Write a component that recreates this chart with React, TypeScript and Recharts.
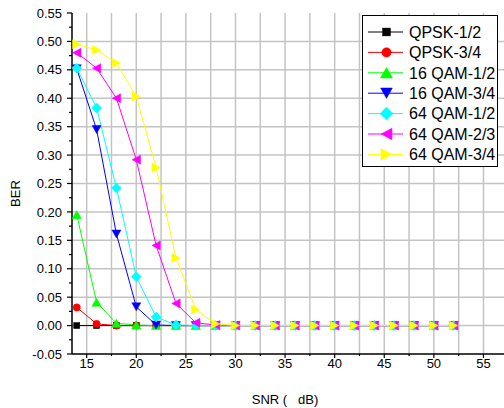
import React from 'react';
import { LineChart, Line, XAxis, YAxis, CartesianGrid, Legend, Label } from 'recharts';

const snr = [14, 16, 18, 20, 22, 24, 26, 28, 30, 32, 34, 36, 38, 40, 42, 44, 46, 48, 50, 52];
const qpsk12 = [0, 0, 0, 0, 0, 0, 0, 0, 0, 0, 0, 0, 0, 0, 0, 0, 0, 0, 0, 0];
const qpsk34 = [0.032, 0.003, 0, 0, 0, 0, 0, 0, 0, 0, 0, 0, 0, 0, 0, 0, 0, 0, 0, 0];
const qam16_12 = [0.195, 0.041, 0.004, 0.001, 0, 0, 0, 0, 0, 0, 0, 0, 0, 0, 0, 0, 0, 0, 0, 0];
const qam16_34 = [0.452, 0.345, 0.161, 0.033, 0.001, 0, 0, 0, 0, 0, 0, 0, 0, 0, 0, 0, 0, 0, 0, 0];
const qam64_12 = [0.453, 0.383, 0.242, 0.086, 0.015, 0.001, 0, 0, 0, 0, 0, 0, 0, 0, 0, 0, 0, 0, 0, 0];
const qam64_23 = [0.48, 0.453, 0.4, 0.292, 0.141, 0.039, 0.005, 0.001, 0, 0, 0, 0, 0, 0, 0, 0, 0, 0, 0, 0];
const qam64_34 = [0.495, 0.485, 0.462, 0.403, 0.278, 0.119, 0.028, 0.003, 0, 0, 0, 0, 0, 0, 0, 0, 0, 0, 0, 0];

const xTicks = [15, 17.5, 20, 22.5, 25, 27.5, 30, 32.5, 35, 37.5, 40, 42.5, 45, 47.5, 50, 52.5, 55];
const yTicks = [-0.05, -0.025, 0, 0.025, 0.05, 0.075, 0.1, 0.125, 0.15, 0.175, 0.2, 0.225, 0.25, 0.275, 0.3, 0.325, 0.35, 0.375, 0.4, 0.425, 0.45, 0.475, 0.5, 0.525, 0.55];
const yGrid = [0, 0.05, 0.1, 0.15, 0.2, 0.25, 0.3, 0.35, 0.4, 0.45, 0.5];
const xGrid = [15, 17.5, 20, 22.5, 25, 27.5, 30, 32.5, 35, 37.5, 40, 42.5, 45, 47.5, 50, 52.5, 55];

const FONT = '"Liberation Sans", Arial, sans-serif';

type Shape = 'square' | 'circle' | 'up' | 'down' | 'diamond' | 'left' | 'right';

const series: { key: string; name: string; color: string; shape: Shape; values: number[] }[] = [
  { key: 'qpsk12', name: 'QPSK-1/2', color: '#000000', shape: 'square', values: qpsk12 },
  { key: 'qpsk34', name: 'QPSK-3/4', color: '#ff0000', shape: 'circle', values: qpsk34 },
  { key: 'qam16_12', name: '16 QAM-1/2', color: '#00ff00', shape: 'up', values: qam16_12 },
  { key: 'qam16_34', name: '16 QAM-3/4', color: '#0000ff', shape: 'down', values: qam16_34 },
  { key: 'qam64_12', name: '64 QAM-1/2', color: '#00ffff', shape: 'diamond', values: qam64_12 },
  { key: 'qam64_23', name: '64 QAM-2/3', color: '#ff00ff', shape: 'left', values: qam64_23 },
  { key: 'qam64_34', name: '64 QAM-3/4', color: '#ffff00', shape: 'right', values: qam64_34 },
];

const data = snr.map((s, i) => {
  const row: Record<string, number> = { snr: s };
  series.forEach((se) => {
    row[se.key] = se.values[i];
  });
  return row;
});

function marker(shape: Shape, color: string, cx: number, cy: number, k: number, key?: string | number) {
  const common = { fill: color, stroke: color, strokeWidth: 0.5 };
  switch (shape) {
    case 'square': {
      const s = 3 * k;
      return <rect key={key} x={cx - s} y={cy - s} width={2 * s} height={2 * s} {...common} />;
    }
    case 'circle':
      return <circle key={key} cx={cx} cy={cy} r={3.6 * k} {...common} />;
    case 'up': {
      const w = 4.7 * k, h = 4 * k;
      return <polygon key={key} points={`${cx - w},${cy + h} ${cx + w},${cy + h} ${cx},${cy - h}`} {...common} />;
    }
    case 'down': {
      const w = 4.5 * k, h = 4 * k;
      return <polygon key={key} points={`${cx - w},${cy - h} ${cx + w},${cy - h} ${cx},${cy + h}`} {...common} />;
    }
    case 'diamond': {
      const r = 5 * k;
      return <polygon key={key} points={`${cx},${cy - r} ${cx + r},${cy} ${cx},${cy + r} ${cx - r},${cy}`} {...common} />;
    }
    case 'left': {
      const w = 4.2 * k, h = 4.5 * k;
      return <polygon key={key} points={`${cx + w},${cy - h} ${cx + w},${cy + h} ${cx - w},${cy}`} {...common} />;
    }
    case 'right':
    default: {
      const w = 4.2 * k, h = 4.5 * k;
      return <polygon key={key} points={`${cx - w},${cy - h} ${cx - w},${cy + h} ${cx + w},${cy}`} {...common} />;
    }
  }
}

const makeDot = (shape: Shape, color: string) => (props: any) => {
  const { cx, cy, index } = props;
  if (cx == null || cy == null) return <g key={`d${index}`} />;
  return marker(shape, color, cx, cy, 1, `d${index}`);
};

const XTick = (props: any) => {
  const { x, y, payload } = props;
  const v = payload.value as number;
  const major = Math.abs(v % 5) < 1e-6;
  return (
    <g>
      <line x1={x} y1={y} x2={x} y2={y + (major ? 4 : 2)} stroke="#000" strokeWidth={1.2} />
      {major && (
        <text x={x} y={y + 13.5} textAnchor="middle" fontSize={13} fontFamily={FONT} fill="#000">
          {v}
        </text>
      )}
    </g>
  );
};

const YTick = (props: any) => {
  const { x, y, payload } = props;
  const v = payload.value as number;
  const q = v / 0.05;
  const major = Math.abs(q - Math.round(q)) < 1e-6;
  return (
    <g>
      <line x1={x} y1={y} x2={x - (major ? 5 : 3)} y2={y} stroke="#000" strokeWidth={1.2} />
      {major && (
        <text x={x - 10} y={y + 4.6} textAnchor="end" fontSize={13} fontFamily={FONT} fill="#000">
          {v.toFixed(2)}
        </text>
      )}
    </g>
  );
};

const LegendBox = () => {
  const rowH = 20.4;
  return (
    <div
      style={{
        border: '1px solid #000',
        background: '#fff',
        width: 134,
        height: 150,
        boxSizing: 'content-box',
      }}
    >
      <svg width={134} height={150} style={{ display: 'block' }}>
        {series.map((se, i) => {
          const cy = 16 + i * rowH;
          return (
            <g key={se.key}>
              <line x1={5} y1={cy} x2={40} y2={cy} stroke={se.color} strokeWidth={1} />
              {marker(se.shape, se.color, 23.5, cy, 1.3)}
              <text x={46} y={cy + 5.8} fontSize={16} fontFamily={FONT} fill="#000">
                {se.name}
              </text>
            </g>
          );
        })}
      </svg>
    </div>
  );
};

export default function App() {
  return (
    <div style={{ position: 'fixed', left: 0, top: 0, width: 504, height: 408, background: '#fff', fontFamily: FONT }}>
      <LineChart width={504} height={408} data={data} margin={{ top: 13, right: 0, bottom: 0, left: 0 }}>
        <CartesianGrid
          horizontalValues={yGrid}
          verticalValues={xGrid}
          stroke="#c4c4c4"
          strokeWidth={1.5}
        />
        <XAxis
          dataKey="snr"
          type="number"
          domain={[13.52, 57.07]}
          allowDataOverflow
          ticks={xTicks}
          interval={0}
          height={54}
          tickSize={0}
          tickMargin={0}
          tick={<XTick />}
          tickLine={false}
          axisLine={{ stroke: '#000', strokeWidth: 1.5 }}
        >
          <Label
            value={'SNR (\u00a0\u00a0\u00a0dB)'}
            position="insideBottom"
            offset={4}
            dx={-3}
            style={{ fontSize: 13, fontFamily: FONT, fill: '#000' }}
          />
        </XAxis>
        <YAxis
          type="number"
          domain={[-0.05, 0.55]}
          allowDataOverflow
          ticks={yTicks}
          interval={0}
          width={72}
          tickSize={0}
          tickMargin={0}
          tick={<YTick />}
          tickLine={false}
          axisLine={{ stroke: '#000', strokeWidth: 1.5 }}
        >
          <Label
            content={(p: any) => {
              const vb = p.viewBox || { x: 0, y: 13, width: 72, height: 341 };
              const cx = vb.x + 15;
              const cy = vb.y + vb.height / 2 + 10;
              return (
                <text
                  x={cx}
                  y={cy}
                  transform={`rotate(-90 ${cx} ${cy})`}
                  textAnchor="middle"
                  dominantBaseline="central"
                  fontSize={13}
                  fontFamily={FONT}
                  fill="#000"
                >
                  BER
                </text>
              );
            }}
          />
        </YAxis>
        <Legend
          layout="vertical"
          align="center"
          verticalAlign="middle"
          content={() => <LegendBox />}
          wrapperStyle={{ left: 362, top: 15, width: 136, height: 152 }}
        />
        {series.map((se) => (
          <Line
            key={se.key}
            dataKey={se.key}
            name={se.name}
            stroke={se.color}
            strokeWidth={1}
            type="linear"
            dot={makeDot(se.shape, se.color)}
            activeDot={false}
            isAnimationActive={false}
          />
        ))}
      </LineChart>
    </div>
  );
}
